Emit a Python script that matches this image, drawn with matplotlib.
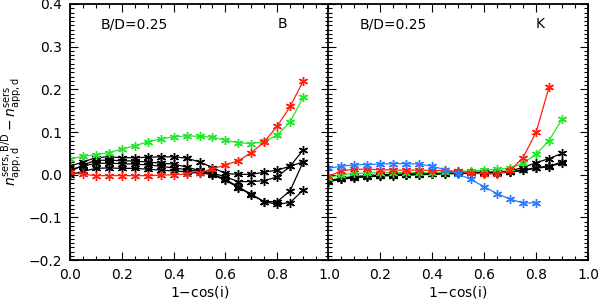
import numpy as np
import matplotlib
matplotlib.use('Agg')
import matplotlib.pyplot as plt
from matplotlib.ticker import MultipleLocator

# inclination grid, 1-cos(i)
x = [0.0, 0.05, 0.1, 0.15, 0.2, 0.25, 0.3, 0.35, 0.4, 0.45,
     0.5, 0.55, 0.6, 0.65, 0.7, 0.75, 0.8, 0.85, 0.9]

# ---- B band (left panel)
b_green = [0.037, 0.043, 0.047, 0.052, 0.060, 0.068, 0.077, 0.084, 0.089, 0.091,
           0.090, 0.088, 0.081, 0.075, 0.073, 0.078, 0.093, 0.124, 0.181]
b_red = [0.006, 0.001, -0.002, -0.002, -0.002, -0.002, -0.002, -0.001, 0.000, 0.002,
         0.005, 0.014, 0.023, 0.033, 0.052, 0.077, 0.114, 0.160, 0.219]
b_black1 = [0.020, 0.030, 0.040, 0.042, 0.040, 0.040, 0.041, 0.042, 0.042, 0.039,
            0.030, 0.017, 0.003, 0.001, 0.001, 0.006, 0.011, 0.020, 0.058]
b_black2 = [0.007, 0.023, 0.034, 0.034, 0.033, 0.032, 0.030, 0.027, 0.025, 0.018,
            0.010, 0.004, -0.005, -0.016, -0.016, -0.014, -0.005, 0.020, 0.030]
b_black3 = [0.012, 0.020, 0.027, 0.027, 0.026, 0.025, 0.023, 0.020, 0.016, 0.012,
            0.008, 0.002, -0.011, -0.028, -0.046, -0.063, -0.063, -0.037, 0.030]
b_black4 = [0.000, 0.008, 0.015, 0.016, 0.015, 0.015, 0.013, 0.011, 0.009, 0.007,
            0.005, 0.000, -0.013, -0.030, -0.047, -0.063, -0.069, -0.065, -0.036]

# ---- K band (right panel)
k_green = [-0.007, 0.000, 0.003, 0.004, 0.005, 0.005, 0.005, 0.005, 0.005, 0.006,
           0.008, 0.009, 0.011, 0.013, 0.015, 0.027, 0.048, 0.080, 0.130]
k_red = [-0.004, 0.009, 0.013, 0.013, 0.012, 0.011, 0.011, 0.011, 0.010, 0.010,
         0.008, 0.004, 0.002, 0.002, 0.010, 0.040, 0.099, 0.205]
k_blue = [0.015, 0.020, 0.023, 0.024, 0.025, 0.026, 0.026, 0.025, 0.020, 0.012,
          0.002, -0.011, -0.028, -0.044, -0.057, -0.066, -0.066]
k_black1 = [-0.014, -0.008, -0.004, -0.002, 0.000, 0.001, 0.002, 0.003, 0.004, 0.005,
            0.006, 0.006, 0.006, 0.007, 0.009, 0.017, 0.028, 0.038, 0.050]
k_black2 = [-0.017, -0.010, -0.006, -0.004, -0.002, -0.001, 0.000, 0.001, 0.002, 0.003,
            0.004, 0.004, 0.005, 0.005, 0.007, 0.011, 0.017, 0.020, 0.030]
k_black3 = [-0.015, -0.011, -0.007, -0.005, -0.003, -0.002, -0.001, 0.000, 0.001, 0.002,
            0.003, 0.003, 0.004, 0.004, 0.006, 0.010, 0.015, 0.019, 0.028]

RED = '#ff2010'
GREEN = '#22e62a'
BLUE = '#2a7cff'
star = (6, 2, 0)

def curve(ax, y, c):
    ax.plot(x[:len(y)], y, color=c, lw=0.9, marker=star, ms=6.5, mew=1.0)

fig = plt.figure(figsize=(6.0, 3.05), dpi=100)
ax1 = fig.add_axes([0.1167, 0.147, 0.4317, 0.84])
ax2 = fig.add_axes([0.5467, 0.147, 0.4333, 0.84])

for y in [b_black1, b_black2, b_black3, b_black4]:
    curve(ax1, y, 'black')
curve(ax1, b_green, GREEN)
curve(ax1, b_red, RED)

for y in [k_black1, k_black2, k_black3]:
    curve(ax2, y, 'black')
curve(ax2, k_green, GREEN)
curve(ax2, k_red, RED)
curve(ax2, k_blue, BLUE)

for ax in (ax1, ax2):
    ax.set_xlim(0, 1)
    ax.set_ylim(-0.2, 0.4)
    ax.xaxis.set_major_locator(MultipleLocator(0.2))
    ax.xaxis.set_minor_locator(MultipleLocator(0.05))
    ax.yaxis.set_major_locator(MultipleLocator(0.1))
    ax.yaxis.set_minor_locator(MultipleLocator(0.01))
    ax.tick_params(which='both', direction='in', top=True, right=True,
                   labelsize=10, width=0.8, pad=6)
    ax.tick_params(which='major', length=6)
    ax.tick_params(which='minor', length=3)
    for s in ax.spines.values():
        s.set_linewidth(1.3)
    ax.set_xlabel('1$-$cos(i)', fontsize=10, labelpad=1)

ax1.set_xticks([0.0, 0.2, 0.4, 0.6, 0.8, 1.0])
ax1.set_xticklabels(['0.0', '0.2', '0.4', '0.6', '0.8', '1.0'])
ax1.set_yticks([-0.2, -0.1, 0.0, 0.1, 0.2, 0.3, 0.4])
ax1.set_yticklabels(['\u22120.2', '\u22120.1', '0.0', '0.1', '0.2', '0.3', '0.4'])
ax1.set_ylabel(r'$n^{\rm sers,B/D}_{\rm app,d}-n^{\rm sers}_{\rm app,d}$', fontsize=10, labelpad=2)

ax2.set_xticks([0.0, 0.2, 0.4, 0.6, 0.8, 1.0])
ax2.set_xticklabels(['', '0.2', '0.4', '0.6', '0.8', '1.0'])
ax2.tick_params(labelleft=False)

ax1.text(0.12, 0.92, 'B/D=0.25', transform=ax1.transAxes, fontsize=10, va='center')
ax1.text(0.80, 0.92, 'B', transform=ax1.transAxes, fontsize=10, va='center')
ax2.text(0.12, 0.92, 'B/D=0.25', transform=ax2.transAxes, fontsize=10, va='center')
ax2.text(0.80, 0.92, 'K', transform=ax2.transAxes, fontsize=10, va='center')

fig.savefig('out.png', dpi=100)
